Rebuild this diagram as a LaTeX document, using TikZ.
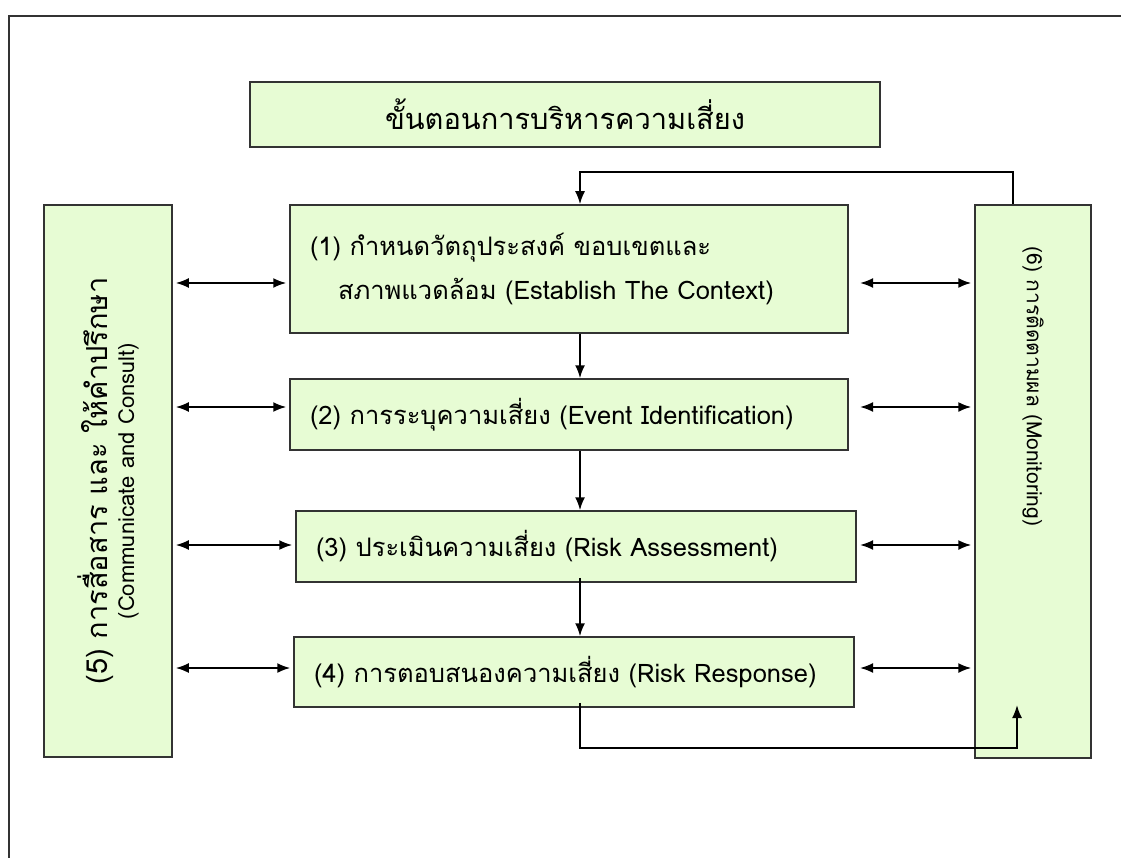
\documentclass[tikz,border=0pt]{standalone}
\usepackage{fontspec}
\setmainfont[Script=Thai]{Loma}
\usetikzlibrary{arrows.meta, calc}
\definecolor{boxfill}{RGB}{231,252,212}
\definecolor{boxline}{RGB}{51,51,51}
\tikzset{
    stepbox/.style={draw=boxline, fill=boxfill, line width=1.5pt, inner xsep=20pt, align=left, font=\fontsize{25.5}{30}\selectfont},
    sidebox/.style={draw=boxline, fill=boxfill, line width=1.5pt, align=center},
    flow/.style={draw=black, line width=1.8pt, -{Latex[length=13pt, width=10pt]}},
    twoway/.style={draw=black, line width=1.8pt, {Latex[length=13pt, width=10pt]}-{Latex[length=13pt, width=10pt]}, shorten <=3pt, shorten >=3pt},
    frame/.style={draw=boxline, line width=2pt}
}

\begin{document}
\begin{tikzpicture}[x=1pt, y=-1pt]
    \useasboundingbox (0,0) rectangle (1121,858);
    \draw[frame] (1121,16) -- (9,16) -- (9,858); % page frame
    \node[sidebox, minimum width=630pt, minimum height=65pt, font=\fontsize{29}{35}\selectfont] (title) at (565,114.5) {ขั้นตอนการบริหารความเสี่ยง};
    \node[stepbox, text width=518pt, minimum height=128pt] (ctx) at (569,269) {(1) กำหนดวัตถุประสงค์ ขอบเขตและ\\[14pt]\hspace*{28pt}สภาพแวดล้อม (Establish The Context)};
    \node[stepbox, text width=518pt, minimum height=71pt] (ident) at (569,414.5) {(2) การระบุความเสี่ยง (Event Identification)};
    \node[stepbox, text width=520pt, minimum height=71pt] (assess) at (576,546.5) {(3) ประเมินความเสี่ยง (Risk Assessment)};
    \node[stepbox, text width=520pt, minimum height=70pt] (resp) at (574,672) {(4) การตอบสนองความเสี่ยง (Risk Response)};
    \node[sidebox, rotate=90, minimum width=552pt, minimum height=128pt] (comm) at (108,481)
        {{\fontsize{29}{31}\selectfont (5) การสื่อสาร และ ให้คำปรึกษา}\\[4pt]{\fontsize{22}{24}\selectfont (Communicate and Consult)}};
    \node[sidebox, rotate=-90, minimum width=553pt, minimum height=116pt, inner xsep=42pt, text width=469pt, align=left, font=\fontsize{21}{25}\selectfont] (mon) at (1033,481.5) {(6) การติดตามผล (Monitoring)};
    \coordinate (spine) at (580,0);
    \coordinate (rgap) at (860,0);
    \coordinate (mon in) at (1017,705);
    % main flow
    \draw[flow] (ctx.south -| spine) -- (ident.north -| spine);
    \draw[flow] (ident.south -| spine) -- (assess.north -| spine);
    \draw[flow, shorten <=-5pt] (assess.south -| spine) -- (resp.north -| spine);
    % feedback loop
    \draw[flow] ([xshift=-20pt]mon.west) -- ++(0,-32) -| (ctx.north -| spine);
    \draw[flow, shorten <=-5pt] (resp.south -| spine) -- ++(0,40) -| (mon in);
    % links to the side boxes
    \foreach \row/\dy in {ctx/14, ident/-7.5, assess/-1.5, resp/-4} {
        \draw[twoway] ($(\row.west -| comm.south)+(0,\dy)$) -- ($(\row.west)+(0,\dy)$);
        \draw[twoway, shorten <=0pt] ($(\row.east -| rgap)+(0,\dy)$) -- ($(\row.east -| mon.south)+(0,\dy)$);
    }
\end{tikzpicture}
\end{document}
